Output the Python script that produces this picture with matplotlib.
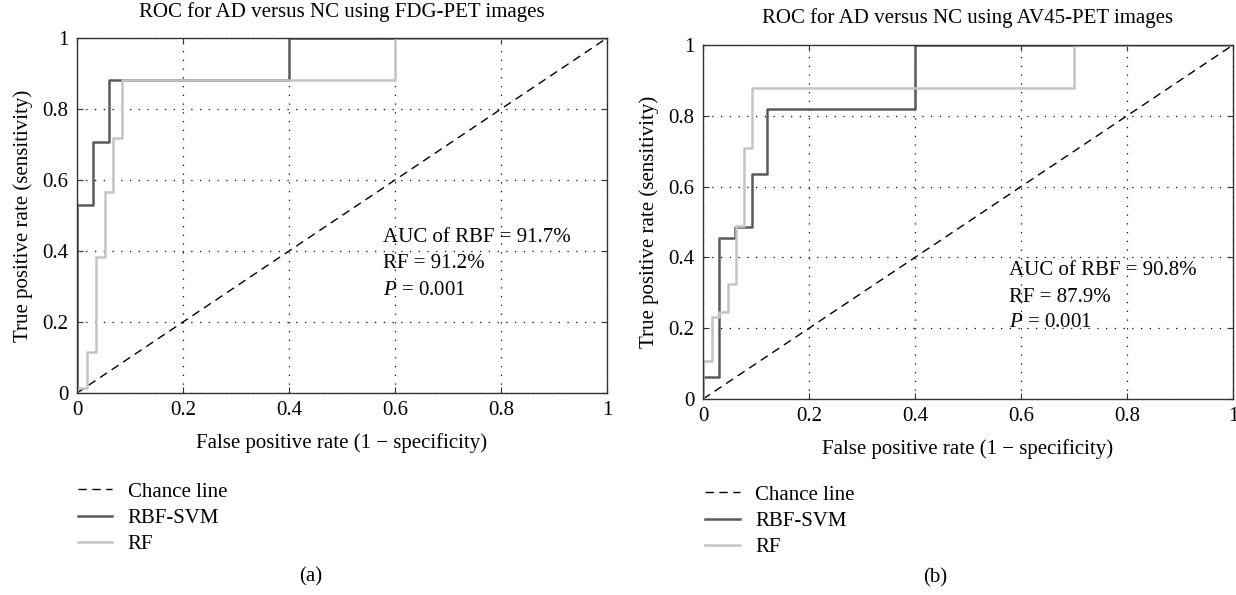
import matplotlib.pyplot as plt
import numpy as np

plt.rcParams['font.family'] = ['Liberation Serif', 'DejaVu Serif']
plt.rcParams['mathtext.fontset'] = 'custom'
plt.rcParams['mathtext.it'] = 'Liberation Serif:italic'
plt.rcParams['mathtext.rm'] = 'Liberation Serif'

# ROC points
fdg_svm_fpr = [0, 0, 0.030, 0.030, 0.060, 0.060, 0.4, 0.4, 1]
fdg_svm_tpr = [0, 0.529, 0.529, 0.706, 0.706, 0.882, 0.882, 1, 1]
fdg_rf_fpr = [0, 0, 0.018, 0.018, 0.035, 0.035, 0.052, 0.052, 0.067, 0.067, 0.084, 0.084, 0.6, 0.6, 1]
fdg_rf_tpr = [0, 0.015, 0.015, 0.116, 0.116, 0.384, 0.384, 0.565, 0.565, 0.717, 0.717, 0.882, 0.882, 1, 1]

av45_svm_fpr = [0, 0, 0.031, 0.031, 0.060, 0.060, 0.092, 0.092, 0.121, 0.121, 0.4, 0.4, 1]
av45_svm_tpr = [0, 0.061, 0.061, 0.454, 0.454, 0.485, 0.485, 0.636, 0.636, 0.819, 0.819, 1, 1]
av45_rf_fpr = [0, 0, 0.016, 0.016, 0.031, 0.031, 0.047, 0.047, 0.062, 0.062, 0.077, 0.077, 0.093, 0.093, 0.7, 0.7, 1]
av45_rf_tpr = [0, 0.108, 0.108, 0.231, 0.231, 0.247, 0.247, 0.324, 0.324, 0.49, 0.49, 0.708, 0.708, 0.878, 0.878, 1, 1]

titles = ['ROC for AD versus NC using FDG-PET images', 'ROC for AD versus NC using AV45-PET images']
auc_rbf = ['91.7%', '90.8%']
auc_rf = ['91.2%', '87.9%']
p_values = ['0.001', '0.001']
panel_tags = ['(a)', '(b)']
ticks = [0, 0.2, 0.4, 0.6, 0.8, 1]
tick_labels = ['0', '0.2', '0.4', '0.6', '0.8', '1']

dark = '#5a5a5a'
light = '#c4c4c4'
fs = 15

fig = plt.figure(figsize=(12.36, 5.95), dpi=100)
ax1 = fig.add_axes([0.0623, 0.3395, 0.4288, 0.5966])
ax2 = fig.add_axes([0.5688, 0.3294, 0.4288, 0.5950])

curves = [(fdg_svm_fpr, fdg_svm_tpr, fdg_rf_fpr, fdg_rf_tpr),
          (av45_svm_fpr, av45_svm_tpr, av45_rf_fpr, av45_rf_tpr)]
text_y = [(0.437, 0.366, 0.290), (0.362, 0.288, 0.215)]
title_pad = [15, 16]

for i, ax in enumerate([ax1, ax2]):
    sx, sy, rx, ry = curves[i]
    ax.plot([0, 1], [0, 1], color='black', linestyle=(0, (6, 4)), linewidth=1.0, label='Chance line')
    ax.plot(sx, sy, color=dark, linewidth=1.8, label='RBF-SVM')
    ax.plot(rx, ry, color=light, linewidth=1.8, label='RF')
    ax.set_xlim(0, 1)
    ax.set_ylim(0, 1)
    ax.set_xticks(ticks)
    ax.set_xticklabels(tick_labels, fontsize=fs)
    ax.set_yticks(ticks)
    ax.set_yticklabels(tick_labels, fontsize=fs)
    ax.tick_params(direction='in', top=True, right=True, length=4, color='#333333', pad=6)
    ax.grid(True, color='black', linestyle=(0, (1, 6)), linewidth=0.9)
    for sp in ax.spines.values():
        sp.set_color('#333333')
        sp.set_linewidth(1.0)
    ax.set_title(titles[i], fontsize=fs, pad=title_pad[i])
    ax.set_xlabel('False positive rate (1 \u2212 specificity)', fontsize=fs, labelpad=9)
    ax.set_ylabel('True positive rate (sensitivity)', fontsize=fs, labelpad=7)
    y1, y2, y3 = text_y[i]
    ax.text(0.577, y1, 'AUC of RBF = ' + auc_rbf[i], fontsize=fs, va='center')
    ax.text(0.577, y2, 'RF = ' + auc_rf[i], fontsize=fs, va='center')
    ax.text(0.577, y3, '$P$ = ' + p_values[i], fontsize=fs, va='center')

leg_kw = dict(loc='upper left', bbox_transform=fig.transFigure, frameon=False, fontsize=fs,
              handlelength=1.65, handletextpad=0.75, labelspacing=0.33, borderpad=0, borderaxespad=0)
ax1.legend(bbox_to_anchor=(0.063, 0.19), **leg_kw)
ax2.legend(bbox_to_anchor=(0.5705, 0.185), **leg_kw)

fig.text(0.2516, 0.03, panel_tags[0], fontsize=fs, ha='center', va='center')
fig.text(0.7565, 0.028, panel_tags[1], fontsize=fs, ha='center', va='center')

fig.savefig('out.png', dpi=100)
